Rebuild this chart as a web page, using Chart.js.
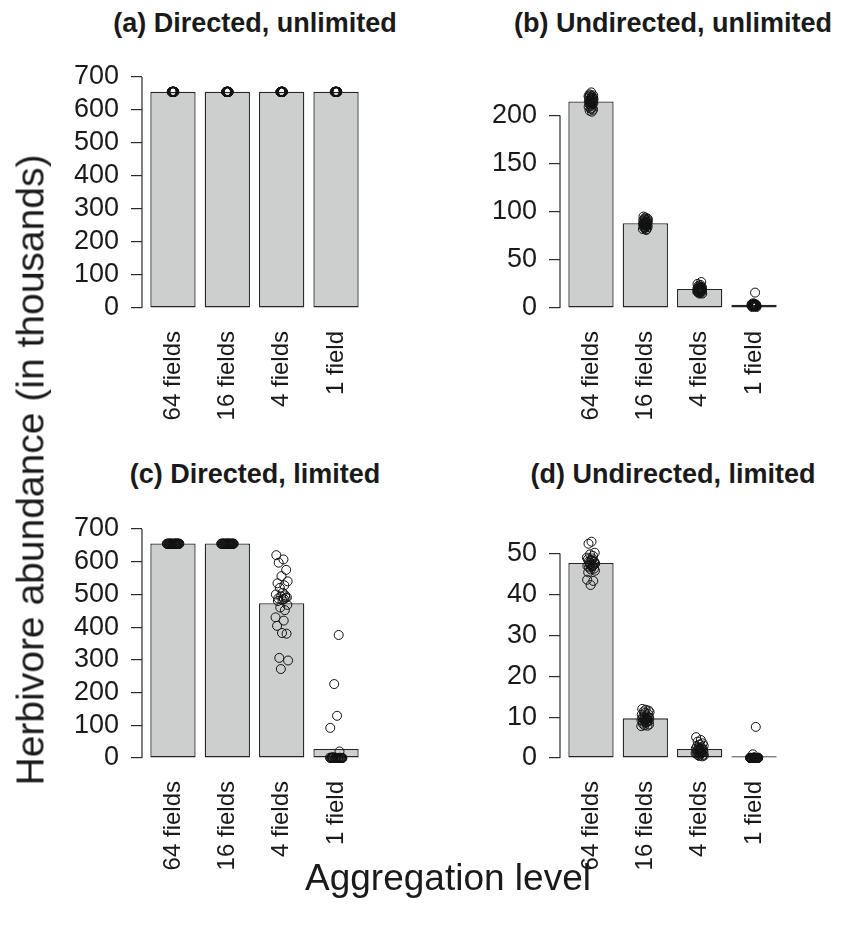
<!DOCTYPE html>
<html>
<head>
<meta charset="utf-8">
<script src="https://cdn.jsdelivr.net/npm/chart.js@4.4.0/dist/chart.umd.min.js"></script>
<style>
html,body{margin:0;padding:0;background:#fff;}
body{width:854px;height:927px;position:relative;overflow:hidden;font-family:"Liberation Sans",Arial,Helvetica,sans-serif;color:#1a1a1a;}
canvas{position:absolute;}
.ttl{position:absolute;font-weight:bold;font-size:27px;line-height:27px;white-space:nowrap;transform:translateX(-50%);}
#ylab{position:absolute;left:30px;top:470px;font-size:39px;line-height:39px;white-space:nowrap;transform:translate(-50%,-50%) rotate(-90deg);}
#xlab{position:absolute;left:448px;top:859px;font-size:37px;line-height:37px;white-space:nowrap;transform:translateX(-50%);}
</style>
</head>
<body>
<canvas id="ca" width="380" height="398" style="left:0px;top:40px"></canvas>
<canvas id="cb" width="380" height="398" style="left:418px;top:40px"></canvas>
<canvas id="cc" width="380" height="398" style="left:0px;top:490px"></canvas>
<canvas id="cd" width="380" height="398" style="left:418px;top:490px"></canvas>
<div class="ttl" style="left:255px;top:10px">(a) Directed, unlimited</div>
<div class="ttl" style="left:673px;top:10px">(b) Undirected, unlimited</div>
<div class="ttl" style="left:255px;top:461px">(c) Directed, limited</div>
<div class="ttl" style="left:673px;top:461px">(d) Undirected, limited</div>
<div id="ylab">Herbivore abundance (in thousands)</div>
<div id="xlab">Aggregation level</div>
<script>
// ---------- data ----------
const categories = ['64 fields', '16 fields', '4 fields', '1 field'];

// (a) Directed, unlimited
const barsA = [655, 655, 655, 655];
const ptsA = [
  [655,655.5,654.5,655,655.2,654.8,655,655.4,654.6,655,655.1,654.9,655,655.3,654.7,655,655.2,654.8,655,655.5,654.5,655,655.1,654.9,655,655.3,654.7,655,655,655],
  [655,655.5,654.5,655,655.2,654.8,655,655.4,654.6,655,655.1,654.9,655,655.3,654.7,655,655.2,654.8,655,655.5,654.5,655,655.1,654.9,655,655.3,654.7,655,655,655],
  [655,655.5,654.5,655,655.2,654.8,655,655.4,654.6,655,655.1,654.9,655,655.3,654.7,655,655.2,654.8,655,655.5,654.5,655,655.1,654.9,655,655.3,654.7,655,655,655],
  [655,655.5,654.5,655,655.2,654.8,655,655.4,654.6,655,655.1,654.9,655,655.3,654.7,655,655.2,654.8,655,655.5,654.5,655,655.1,654.9,655,655.3,654.7,655,655,655]
];
const yTicksA = [0, 100, 200, 300, 400, 500, 600, 700];

// (b) Undirected, unlimited
const barsB = [214.5, 88, 19.8, 3.3];
const ptsB = [
  [224,222,221,221,220,220,219,219,218,218,217,217,216,216,215,215,214,214,213,213,212,212,211,210,209,208,207,206,205,204],
  [95,94,93,93,92,92,91,91,90,90,89,89,89,88,88,88,87,87,87,86,86,86,85,85,84,84,83,82,82,81],
  [25,24,23,22,22,21,21,21,20,20,20,20,19,19,19,19,19,18,18,18,18,17,17,17,16,16,16,15,15,27],
  [16,5,4,4,4,4,3,3,3,3,3,3,3,3,3,3,3,3,3,2,2,2,2,2,2,2,2,2,1,1]
];
const yTicksB = [0, 50, 100, 150, 200];

// (c) Directed, limited
const barsC = [656, 656, 473, 27.5];
const ptsC = [
  [655,655.5,654.5,655,655.2,654.8,655,655.4,654.6,655,655.1,654.9,655,655.3,654.7,655,655.2,654.8,655,655.5,654.5,655,655.1,654.9,655,655.3,654.7,655,655,655],
  [655,655.5,654.5,655,655.2,654.8,655,655.4,654.6,655,655.1,654.9,655,655.3,654.7,655,655.2,654.8,655,655.5,654.5,655,655.1,654.9,655,655.3,654.7,655,655,655],
  [620,607,597,575,556,540,534,528,520,505,500,497,494,491,488,486,483,480,468,460,452,430,420,404,382,380,306,298,272,490],
  [376,226,129,92,20,0,0,1,0,0,2,0,0,0,1,0,0,0,0,2,0,0,1,0,0,0,0,1,0,0]
];
const yTicksC = [0, 100, 200, 300, 400, 500, 600, 700];

// (d) Undirected, limited
const barsD = [47.7, 9.7, 2.2, 0.4];
const ptsD = [
  [52.9,52.4,50.2,49.8,49.4,49.0,48.8,48.6,48.3,48.0,47.8,47.6,47.4,47.2,47.0,46.8,46.6,46.3,46.1,45.8,45.4,47.0,47.3,48.4,43.6,43.3,42.3,47.5,48.1,46.9],
  [12.0,11.8,11.6,11.4,11.2,11.0,10.8,10.6,10.4,10.2,10.0,9.9,9.8,9.7,9.6,9.5,9.4,9.3,9.2,9.1,9.0,8.9,8.8,8.6,8.4,8.2,8.0,7.9,7.8,9.5],
  [5.1,4.4,4.0,3.6,3.3,3.0,2.8,2.6,2.5,2.4,2.3,2.2,2.1,2.0,1.9,1.8,1.7,1.6,1.5,1.4,1.3,1.2,1.1,1.0,0.9,0.8,0.7,0.6,0.5,0.4],
  [7.6,0.9,0.1,0,0,0.1,0,0,0,0.1,0,0,0,0,0.1,0,0,0,0,0,0.1,0,0,0,0,0,0,0.1,0,0]
];
const yTicksD = [0, 10, 20, 30, 40, 50];

// fixed horizontal jitter pattern (fraction of the jitter half-width)
const jitterPattern = [0.12,-0.55,0.83,-0.21,0.47,-0.9,0.3,-0.68,0.05,0.72,-0.35,0.94,-0.12,0.58,-0.79,0.26,-0.44,0.66,-0.03,0.88,-0.61,0.39,-0.27,0.15,-0.85,0.51,-0.08,0.77,-0.5,0.33];

// ---------- layout / style ----------
const FONT = '"Liberation Sans", Arial, Helvetica, sans-serif';
const INK = '#1a1a1a';
const BAR_W = 1, BAR_SPACE = 0.2;             // R barplot defaults
const center = i => BAR_SPACE + BAR_W / 2 + i * (BAR_W + BAR_SPACE);

const axisLine = {
  id: 'axisLine',
  afterDraw(chart) {
    const s = chart.scales.y, t = s.ticks, ctx = chart.ctx;
    ctx.save();
    ctx.strokeStyle = '#2b2b2b';
    ctx.lineWidth = 1.2;
    ctx.beginPath();
    ctx.moveTo(s.right, s.getPixelForValue(t[0].value));
    ctx.lineTo(s.right, s.getPixelForValue(t[t.length - 1].value));
    ctx.stroke();
    ctx.restore();
  }
};

function makePanel(id, bars, pts, yTicks, yMax, jitter, padTop) {
  const scatter = [];
  pts.forEach((arr, i) => arr.forEach((v, k) => {
    scatter.push({ x: center(i) + jitterPattern[(k + 7 * i) % jitterPattern.length] * jitter, y: v });
  }));
  new Chart(document.getElementById(id), {
    type: 'bar',
    data: {
      datasets: [
        {
          type: 'scatter', data: scatter, order: 0, clip: false,
          pointRadius: 4.5, pointHoverRadius: 4.5, pointBorderWidth: 1,
          pointBackgroundColor: 'rgba(0,0,0,0)', pointBorderColor: '#111'
        },
        {
          type: 'bar', order: 1,
          data: bars.map((v, i) => ({ x: center(i), y: v })),
          backgroundColor: '#cdcfce', borderColor: '#262626', borderWidth: 1.3,
          borderSkipped: false, categoryPercentage: 1, barPercentage: BAR_W / (BAR_W + BAR_SPACE)
        }
      ]
    },
    options: {
      responsive: false, animation: false, devicePixelRatio: 1,
      layout: { padding: { top: padTop, right: 13, left: 0, bottom: 0 } },
      plugins: { legend: { display: false }, tooltip: { enabled: false }, title: { display: false } },
      events: [],
      scales: {
        x: {
          type: 'linear', min: 0.016, max: 4.984, offset: false,
          grid: { display: false, drawTicks: false, offset: false },
          border: { display: false },
          afterBuildTicks: s => { s.ticks = categories.map((c, i) => ({ value: center(i) })); },
          afterFit: s => { s.height = 130; s.paddingLeft = 0; s.paddingRight = 0; },
          ticks: {
            autoSkip: false, minRotation: 90, maxRotation: 90, padding: 23,
            color: INK, font: { family: FONT, size: 24 },
            callback: (v, i) => categories[i]
          }
        },
        y: {
          type: 'linear', min: 0, max: yMax,
          grid: { drawOnChartArea: false, drawTicks: true, tickLength: 11, color: '#2b2b2b', lineWidth: 1.2 },
          border: { display: false },
          afterBuildTicks: s => { s.ticks = yTicks.map(v => ({ value: v })); },
          afterFit: s => { s.width = 142; s.paddingTop = 0; s.paddingBottom = 0; },
          ticks: { autoSkip: false, padding: 12, color: INK, font: { family: FONT, size: 27 } }
        }
      }
    },
    plugins: [axisLine]
  });
}

makePanel('ca', barsA, ptsA, yTicksA, 700, 0.03, 37);
makePanel('cb', barsB, ptsB, yTicksB, 240, 0.06, 37);
makePanel('cc', barsC, ptsC, yTicksC, 700, 0.15, 39);
makePanel('cd', barsD, ptsD, yTicksD, 56, 0.10, 39);
</script>
</body>
</html>
